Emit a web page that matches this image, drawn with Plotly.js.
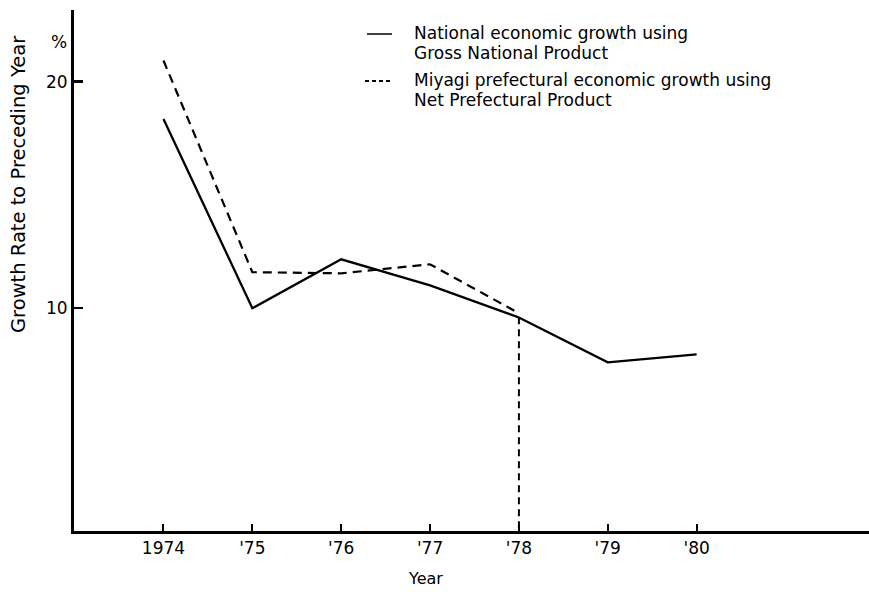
<!DOCTYPE html>
<html>
<head>
<meta charset="utf-8">
<script src="https://cdn.plot.ly/plotly-3.0.1.min.js"></script>
<style>html,body{margin:0;padding:0;background:#fff;}#chart{width:869px;height:592px;}</style>
</head>
<body>
<div id="chart"></div>
<script>
const years = [1974, 1975, 1976, 1977, 1978, 1979, 1980];
const tickLabels = ["1974", "'75", "'76", "'77", "'78", "'79", "'80"];
const nationalGNP = [18.35, 10.0, 12.16, 11.01, 9.59, 7.61, 7.96];
const miyagiYears = [1974, 1975, 1976, 1977, 1978];
const miyagiNPP = [20.93, 11.59, 11.54, 11.94, 9.78];
const dropX = [1978, 1978];
const dropY = [9.6, 0.17];
const yTicks = [10, 20];
const yTickLabels = ["10", "20"];
const legendLines = [
  "National economic growth using",
  "Gross National Product",
  "Miyagi prefectural economic growth using",
  "Net Prefectural Product"
];

const font = "DejaVu Sans, Verdana, sans-serif";

const traces = [
  {
    x: years, y: nationalGNP, type: 'scatter', mode: 'lines',
    name: legendLines[0] + ' ' + legendLines[1],
    line: {color: '#000', width: 2.3}
  },
  {
    x: miyagiYears, y: miyagiNPP, type: 'scatter', mode: 'lines',
    name: legendLines[2] + ' ' + legendLines[3],
    line: {color: '#000', width: 2.2, dash: '9px,6px'}
  },
  {
    x: dropX, y: dropY, type: 'scatter', mode: 'lines',
    line: {color: '#000', width: 2, dash: '7px,5px'}
  }
];

// pixel -> paper helpers for annotation placement
const L = 74, R = 0, T = 10, B = 61, W = 869, H = 592;
const pw = W - L - R, ph = H - T - B;
const px = v => (v - L) / pw;
const py = v => (H - B - v) / ph;

const legendY = [33, 53, 80, 100];
const annotations = legendLines.map((t, i) => ({
  text: t, xref: 'paper', yref: 'paper', x: px(412), y: py(legendY[i]),
  xanchor: 'left', yanchor: 'middle', showarrow: false,
  font: {size: 17, family: font, color: '#000'}
}));
annotations.push(
  {text: '%', xref: 'paper', yref: 'paper', x: px(59), y: py(42), showarrow: false,
   font: {size: 17, family: font}, xanchor: 'center', yanchor: 'middle'},
  {text: 'Growth Rate to Preceding Year', xref: 'paper', yref: 'paper',
   x: px(18), y: py(184), textangle: -90, showarrow: false,
   font: {size: 19.5, family: font}, xanchor: 'center', yanchor: 'middle'},
  {text: 'Year', xref: 'paper', yref: 'paper', x: px(425), y: py(578), showarrow: false,
   font: {size: 16, family: font}, xanchor: 'center', yanchor: 'middle'}
);

const layout = {
  width: W, height: H,
  margin: {l: L, r: R, t: T, b: B},
  paper_bgcolor: '#fff', plot_bgcolor: '#fff',
  font: {family: font, color: '#000', size: 16},
  showlegend: false,
  xaxis: {
    range: [1972.993, 1981.94],
    tickvals: years, ticktext: tickLabels,
    showline: true, linewidth: 3, linecolor: '#000',
    ticks: 'inside', ticklen: 7, tickwidth: 2, tickcolor: '#000',
    showgrid: false, zeroline: false,
    tickfont: {size: 17, family: font}
  },
  yaxis: {
    range: [0.17, 23.16],
    tickvals: yTicks, ticktext: yTickLabels,
    showline: true, linewidth: 3, linecolor: '#000',
    ticks: 'inside', ticklen: 9, tickwidth: 2.5, tickcolor: '#000',
    showgrid: false, zeroline: false,
    tickfont: {size: 17, family: font}
  },
  shapes: [
    {type: 'line', xref: 'paper', yref: 'paper', x0: px(367), x1: px(392), y0: py(34), y1: py(34),
     line: {color: '#000', width: 1.5}},
    {type: 'line', xref: 'paper', yref: 'paper', x0: px(365), x1: px(393), y0: py(81), y1: py(81),
     line: {color: '#000', width: 2, dash: '4px,3px'}}
  ],
  annotations: annotations
};

Plotly.newPlot('chart', traces, layout, {displayModeBar: false, staticPlot: true});
</script>
</body>
</html>
